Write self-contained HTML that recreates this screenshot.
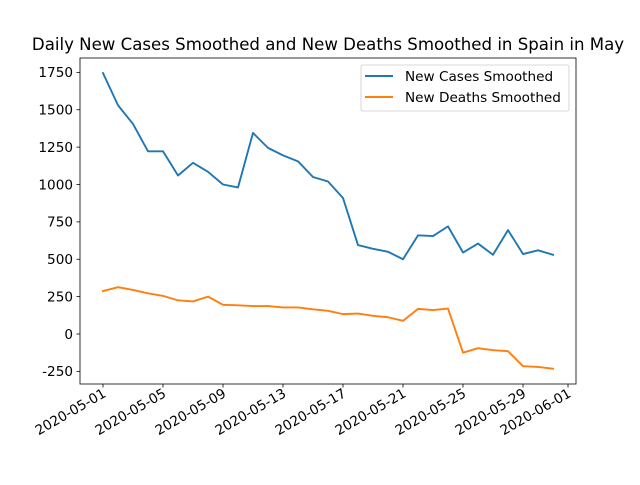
<!DOCTYPE html>
<html><head><meta charset="utf-8"><style>
body{margin:0;background:#fff;}
svg text{font-family:"DejaVu Sans","Liberation Sans",sans-serif;fill:#000;}
</style></head><body>
<svg id="chart" width="640" height="480" xmlns="http://www.w3.org/2000/svg"></svg>
<script>
const dates = ["2020-05-01","2020-05-05","2020-05-09","2020-05-13","2020-05-17","2020-05-21","2020-05-25","2020-05-29","2020-06-01"];
const dateDays = [0,4,8,12,16,20,24,28,31];
const yTicks = [-250,0,250,500,750,1000,1250,1500,1750];
const cases = [1745,1530,1405,1222,1222,1060,1145,1085,1000,980,1345,1245,1195,1155,1050,1020,910,595,570,550,500,660,655,720,545,605,530,695,535,560,530];
const deaths = [287,313,295,272,255,225,218,250,195,192,187,187,178,178,165,155,133,137,122,112,88,168,160,170,-125,-95,-108,-115,-215,-220,-232];
const NS="http://www.w3.org/2000/svg";
const svg=document.getElementById('chart');
const L=80,R=576,T=58,B=384;
const xs=d=>103+d*15;
const ys=v=>334-v*0.1495;
function mk(tag,attrs,parent){const e=document.createElementNS(NS,tag);for(const k in attrs)e.setAttribute(k,attrs[k]);(parent||svg).appendChild(e);return e;}
const title=mk('text',{x:328,y:50,'text-anchor':'middle','font-size':16.6});
title.textContent='Daily New Cases Smoothed and New Deaths Smoothed in Spain in May';


yTicks.forEach(v=>{
  const y=ys(v);
  const t=mk('line',{x1:L-3.5,x2:L,y1:y,y2:y,stroke:'#000','stroke-width':0.8});
  
  
  const l=mk('text',{x:L-7,y:y+4.8,'text-anchor':'end','font-size':13.6});
  l.textContent=v;
  
  
});
dates.forEach((s,i)=>{
  const x=xs(dateDays[i]);
  const t=mk('line',{x1:x,x2:x,y1:B,y2:B+3.5,stroke:'#000','stroke-width':0.8});
  
  
  const l=mk('text',{x:x+4,y:B+12,'text-anchor':'end','font-size':13.6,transform:`rotate(-30 ${x+4} ${B+12})`});
  l.textContent=s;
  
  
});
function line(data,color,name){
  const p=mk('polyline',{points:data.map((v,i)=>xs(i)+','+ys(v)).join(' '),fill:'none',stroke:color,'stroke-width':1.9,'stroke-linejoin':'round','stroke-linecap':'square'});
  
  
}
line(cases,'#1f77b4','new-cases-line');
line(deaths,'#ff7f0e','new-deaths-line');
const fr=mk('rect',{x:L,y:T,width:R-L,height:B-T,fill:'none',stroke:'#000','stroke-width':0.8});


const lg=mk('g',{});


mk('rect',{x:361,y:65,width:208,height:46,rx:2,fill:'#fff','fill-opacity':0.8,stroke:'#ccc','stroke-width':0.8},lg);
const names=['New Cases Smoothed','New Deaths Smoothed'],cols=['#1f77b4','#ff7f0e'];
names.forEach((n,i)=>{
  const y=76+i*21;
  const e=mk('g',{},lg);
  
  
  mk('line',{x1:365,x2:393,y1:y,y2:y,stroke:cols[i],'stroke-width':1.9},e);
  const t=mk('text',{x:405,y:y+4.8,'font-size':13.6},e);
  t.textContent=n;
});
</script>
</body></html>
